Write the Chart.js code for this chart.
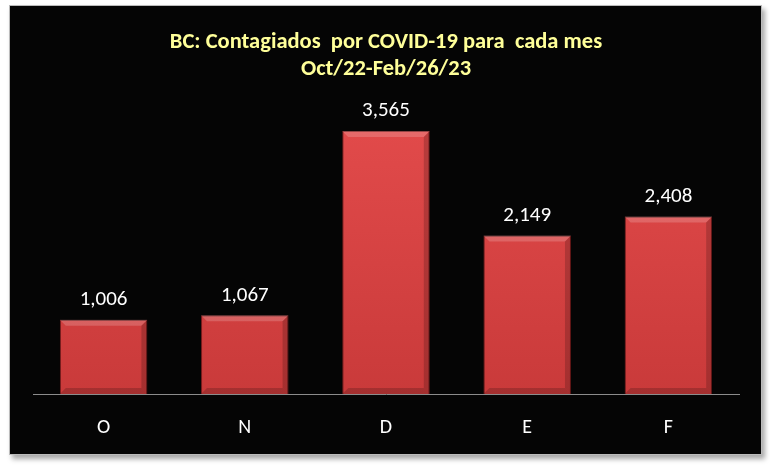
<!DOCTYPE html>
<html lang="es">
<head>
    <meta charset="UTF-8">
    <title>BC: Contagiados por COVID-19</title>
    <script src="https://cdn.jsdelivr.net/npm/chart.js"></script>
    <style>
        body { margin: 0; background: #fff; }
        .box {
            position: absolute; left: 9px; top: 5px; width: 751px; height: 448px;
            background: #050505; border: 1px solid #bbb;
            box-shadow: 3px 4px 5px rgba(0,0,0,0.35);
        }
    </style>
</head>
<body>
    <div class="box"><canvas id="chart" width="751" height="448"></canvas></div>

    <script>
        const months = ['O', 'N', 'D', 'E', 'F'];
        const cases = [1006, 1067, 3565, 2149, 2408];
        const titleLines = ['BC: Contagiados  por COVID-19 para  cada mes', 'Oct/22-Feb/26/23'];

        const font = "Calibri, Lato, 'Open Sans', sans-serif";

        // valor encima de cada barra
        const valueLabels = {
            id: 'valueLabels',
            afterDatasetsDraw(chart) {
                const ctx = chart.ctx;
                const meta = chart.getDatasetMeta(0);
                ctx.save();
                ctx.fillStyle = '#fff';
                ctx.font = '21px ' + font;
                ctx.textAlign = 'center';
                ctx.textBaseline = 'middle';
                meta.data.forEach((bar, i) => {
                    ctx.fillText(cases[i].toLocaleString('en-US'), bar.x, bar.y - 20);
                });
                ctx.restore();
            }
        };

        // brillo tipo bisel en las barras
        const bevel = {
            id: 'bevel',
            afterDatasetsDraw(chart) {
                const ctx = chart.ctx;
                chart.getDatasetMeta(0).data.forEach(bar => {
                    const l = bar.x - bar.width / 2, r = bar.x + bar.width / 2;
                    const t = bar.y, b = bar.base, d = 6;
                    ctx.save();
                    ctx.fillStyle = 'rgba(255,255,255,0.18)';
                    ctx.beginPath();
                    ctx.moveTo(l, t); ctx.lineTo(r, t); ctx.lineTo(r - d, t + d); ctx.lineTo(l + d, t + d);
                    ctx.closePath(); ctx.fill();
                    ctx.fillStyle = 'rgba(0,0,0,0.18)';
                    ctx.beginPath();
                    ctx.moveTo(r, t); ctx.lineTo(r, b); ctx.lineTo(r - d, b - d); ctx.lineTo(r - d, t + d);
                    ctx.closePath(); ctx.fill();
                    ctx.beginPath();
                    ctx.moveTo(l, b); ctx.lineTo(r, b); ctx.lineTo(r - d, b - d); ctx.lineTo(l + d, b - d);
                    ctx.closePath(); ctx.fill();
                    ctx.restore();
                });
            }
        };

        const ctx = document.getElementById('chart').getContext('2d');
        new Chart(ctx, {
            type: 'bar',
            data: {
                labels: months,
                datasets: [{
                    data: cases,
                    backgroundColor: (c) => {
                        const area = c.chart.chartArea;
                        if (!area) return '#d64141';
                        const g = c.chart.ctx.createLinearGradient(0, area.top, 0, area.bottom);
                        g.addColorStop(0, '#e44c4c');
                        g.addColorStop(1, '#c93a3a');
                        return g;
                    },
                    borderColor: '#7a1c1c',
                    borderWidth: 1,
                    categoryPercentage: 0.62,
                    barPercentage: 1
                }]
            },
            options: {
                responsive: false,
                animation: false,
                layout: { padding: { left: 23, right: 22, top: 10, bottom: 0 } },
                plugins: {
                    legend: { display: false },
                    tooltip: { enabled: false },
                    title: {
                        display: true,
                        text: titleLines,
                        color: '#ffff99',
                        font: { family: font, size: 22.5, weight: 'bold', lineHeight: 1.2 },
                        padding: { top: 13, bottom: 16 }
                    }
                },
                scales: {
                    x: {
                        grid: { display: false },
                        border: { display: true, color: '#8c8c8c', width: 1 },
                        ticks: { color: '#fff', font: { family: font, size: 20 }, padding: 14 }
                    },
                    y: {
                        display: false,
                        min: 0,
                        max: 4000
                    }
                }
            },
            plugins: [valueLabels, bevel]
        });
    </script>
</body>
</html>
